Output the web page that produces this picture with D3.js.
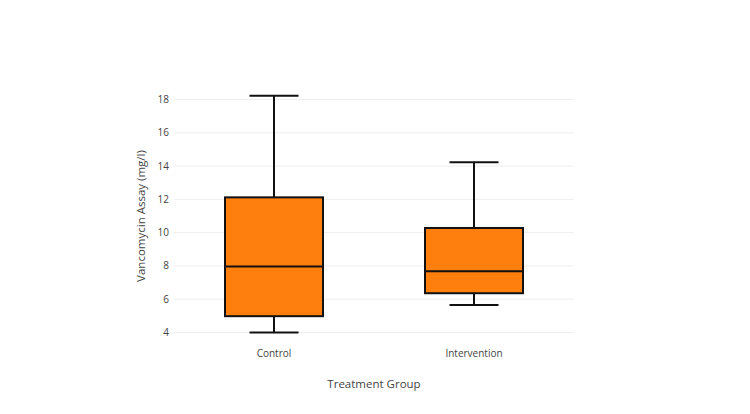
<!DOCTYPE html>
<html>
<head>
<meta charset="utf-8">
<script src="https://cdn.jsdelivr.net/npm/d3@7"></script>
<style>
  body { margin: 0; background: #fff; }
  svg { display: block; font-family: "Open Sans", sans-serif; }
</style>
</head>
<body>
<svg width="750" height="414"></svg>
<script>
// data
const groups = ["Control", "Intervention"];
const lowerWhisker = [4.0, 5.65];
const q1 = [4.98, 6.36];
const median = [7.97, 7.68];
const q3 = [12.12, 10.28];
const upperWhisker = [18.22, 14.23];
const yTicks = [4, 6, 8, 10, 12, 14, 16, 18];

const svg = d3.select("svg");

const left = 174, right = 574;

const x = d3.scaleBand()
    .domain(groups)
    .range([left, right])
    .padding(0);

const y = d3.scaleLinear()
    .domain([4, 18])
    .range([332.5, 99.5]);

const boxes = groups.map((g, i) => ({
    name: g, lo: lowerWhisker[i], q1: q1[i], med: median[i], q3: q3[i], hi: upperWhisker[i]
}));

// grid
svg.append("g").selectAll("line")
    .data(yTicks).enter().append("line")
    .attr("x1", left).attr("x2", right)
    .attr("y1", d => y(d)).attr("y2", d => y(d))
    .attr("stroke", "#eee")
    .attr("stroke-width", 1);

// y tick labels
svg.append("g").selectAll("text")
    .data(yTicks).enter().append("text")
    .attr("x", left - 5)
    .attr("y", d => y(d))
    .attr("dy", "0.35em")
    .attr("text-anchor", "end")
    .style("font-size", "10px")
    .style("fill", "#444")
    .text(d => d);

// x tick labels
svg.append("g").selectAll("text")
    .data(groups).enter().append("text")
    .attr("x", d => x(d) + x.bandwidth() / 2)
    .attr("y", 353)
    .attr("dy", "0.35em")
    .attr("text-anchor", "middle")
    .style("font-size", "10px")
    .style("fill", "#444")
    .text(d => d);

const boxW = x.bandwidth() * 0.49;
const capW = boxW / 2;

const bg = svg.append("g").selectAll("g")
    .data(boxes).enter().append("g")
    .attr("transform", d => `translate(${x(d.name) + x.bandwidth() / 2},0)`);

// whiskers
bg.append("line")
    .attr("x1", 0).attr("x2", 0)
    .attr("y1", d => y(d.q3)).attr("y2", d => y(d.hi))
    .attr("stroke", "#111").attr("stroke-width", 2);
bg.append("line")
    .attr("x1", 0).attr("x2", 0)
    .attr("y1", d => y(d.q1)).attr("y2", d => y(d.lo))
    .attr("stroke", "#111").attr("stroke-width", 2);
bg.append("line")
    .attr("x1", -capW / 2).attr("x2", capW / 2)
    .attr("y1", d => y(d.hi)).attr("y2", d => y(d.hi))
    .attr("stroke", "#111").attr("stroke-width", 2);
bg.append("line")
    .attr("x1", -capW / 2).attr("x2", capW / 2)
    .attr("y1", d => y(d.lo)).attr("y2", d => y(d.lo))
    .attr("stroke", "#111").attr("stroke-width", 2);

// box
bg.append("rect")
    .attr("x", -boxW / 2)
    .attr("width", boxW)
    .attr("y", d => y(d.q3))
    .attr("height", d => y(d.q1) - y(d.q3))
    .attr("fill", "#ff7f0e")
    .attr("stroke", "#111")
    .attr("stroke-width", 2);

// median
bg.append("line")
    .attr("x1", -boxW / 2).attr("x2", boxW / 2)
    .attr("y1", d => y(d.med)).attr("y2", d => y(d.med))
    .attr("stroke", "#111").attr("stroke-width", 2);

// axis titles
svg.append("text")
    .attr("x", (left + right) / 2)
    .attr("y", 384)
    .attr("dy", "0.35em")
    .attr("text-anchor", "middle")
    .style("font-size", "11.5px")
    .style("fill", "#444")
    .text("Treatment Group");

svg.append("text")
    .attr("transform", `translate(141,${(y(4) + y(18)) / 2}) rotate(-90)`)
    .attr("dy", "0.35em")
    .attr("text-anchor", "middle")
    .style("font-size", "11.5px")
    .style("fill", "#444")
    .text("Vancomycin Assay (mg/l)");
</script>
</body>
</html>
